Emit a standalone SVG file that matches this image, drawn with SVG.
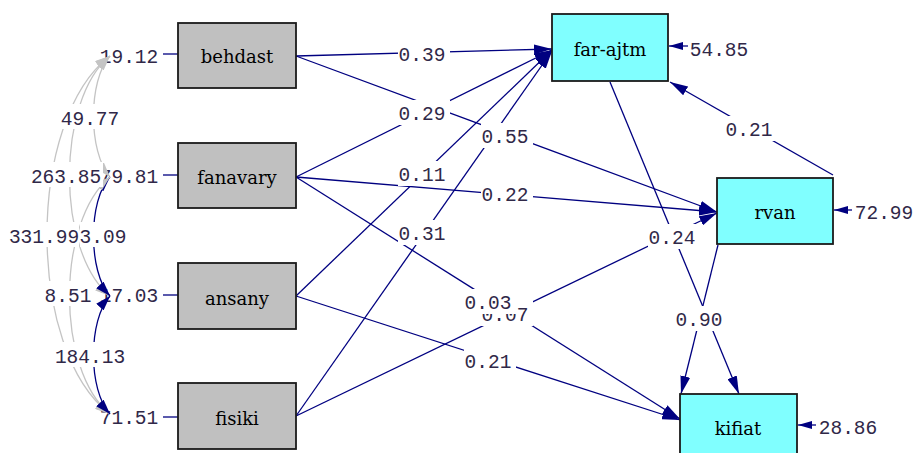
<svg xmlns="http://www.w3.org/2000/svg" width="914" height="453" viewBox="0 0 914 453">
<defs>
<style>
.bg{fill:#ffffff}
.obs{fill:#c0c0c0;stroke:#1a1a1a;stroke-width:1.8}
.lat{fill:#80ffff;stroke:#1a1a1a;stroke-width:1.8}
.nm{font-family:"DejaVu Serif","Liberation Serif",serif;font-size:18px;fill:#000;text-anchor:middle}
.num{font-family:"Liberation Mono","DejaVu Sans Mono",monospace;font-size:19.5px;fill:#302848;text-anchor:middle}
.lbg{fill:#ffffff}
.ln{fill:none;stroke:#000080;stroke-width:1.3}
.gr{fill:none;stroke:#c4c4c4;stroke-width:1.3}
.nv{fill:none;stroke:#000080;stroke-width:1.3}
</style>
<marker id="ah" markerUnits="userSpaceOnUse" markerWidth="18" markerHeight="10" refX="18" refY="5" orient="auto"><path d="M0,0 L18,5 L0,10 z" fill="#000080"/></marker>
<marker id="ag" markerUnits="userSpaceOnUse" markerWidth="15" markerHeight="10" refX="15" refY="5" orient="auto-start-reverse"><path d="M0,0 L15,5 L0,10 z" fill="#c4c4c4"/></marker>
<marker id="an" markerUnits="userSpaceOnUse" markerWidth="15" markerHeight="10" refX="15" refY="5" orient="auto-start-reverse"><path d="M0,0 L15,5 L0,10 z" fill="#000080"/></marker>
<marker id="ae" markerUnits="userSpaceOnUse" markerWidth="14" markerHeight="8" refX="14" refY="4" orient="auto"><path d="M0,0 L14,4 L0,8 z" fill="#000080"/></marker>
</defs>
<rect class="bg" x="0" y="0" width="914" height="453"/>

<g id="connectors">
<path class="ln" d="M296,56 L552,49" marker-end="url(#ah)"/>
<path class="ln" d="M296,56 L717,212" marker-end="url(#ah)"/>
<path class="ln" d="M296,177 L552,50" marker-end="url(#ah)"/>
<path class="ln" d="M296,177 L717,212" marker-end="url(#ah)"/>
<path class="ln" d="M296,177 L680,419" marker-end="url(#ah)"/>
<path class="ln" d="M296,296 L552,50" marker-end="url(#ah)"/>
<path class="ln" d="M296,296 L680,420" marker-end="url(#ah)"/>
<path class="ln" d="M296,416 L552,51" marker-end="url(#ah)"/>
<path class="ln" d="M296,416 L717,213" marker-end="url(#ah)"/>
<path class="ln" d="M610,82 L739,394" marker-end="url(#ah)"/>
<path class="ln" d="M833,175 L670,82" marker-end="url(#ah)"/>
<path class="ln" d="M718,245 L681,394" marker-end="url(#ah)"/>
<path class="ln" d="M163,54 L178,54"/>
<path class="ln" d="M163,175 L178,175"/>
<path class="ln" d="M163,295 L178,295"/>
<path class="ln" d="M163,417 L178,417"/>
<path class="ln" d="M688,46 L669,46" marker-end="url(#ae)"/>
<path class="ln" d="M852,210 L834,210" marker-end="url(#ae)"/>
<path class="ln" d="M816,425 L798,425" marker-end="url(#ae)"/>
</g>

<g id="path-labels">
<rect class="lbg" x="398" y="41" width="52" height="25"/><text class="num" x="422" y="61">0.39</text>
<rect class="lbg" x="398" y="100" width="52" height="25"/><text class="num" x="422" y="120">0.29</text>
<rect class="lbg" x="481" y="123" width="52" height="25"/><text class="num" x="505" y="143">0.55</text>
<rect class="lbg" x="398" y="161" width="52" height="25"/><text class="num" x="422" y="181">0.11</text>
<rect class="lbg" x="481" y="181" width="52" height="25"/><text class="num" x="505" y="201">0.22</text>
<rect class="lbg" x="398" y="220" width="52" height="25"/><text class="num" x="422" y="240">0.31</text>
<rect class="lbg" x="481" y="301" width="52" height="25"/><text class="num" x="505" y="321">0.07</text>
<rect class="lbg" x="464" y="289" width="52" height="25"/><text class="num" x="488" y="309">0.03</text>
<rect class="lbg" x="464" y="348" width="52" height="25"/><text class="num" x="488" y="368">0.21</text>
<rect class="lbg" x="648" y="224" width="52" height="25"/><text class="num" x="672" y="244">0.24</text>
<rect class="lbg" x="675" y="306" width="52" height="25"/><text class="num" x="699" y="326">0.90</text>
<rect class="lbg" x="725" y="116" width="52" height="25"/><text class="num" x="749" y="136">0.21</text>
</g>

<g id="variances">
<text class="num" x="129" y="63">19.12</text>
<text class="num" x="129" y="183">79.81</text>
<text class="num" x="129" y="302">17.03</text>
<text class="num" x="129" y="424">71.51</text>
<text class="num" x="719" y="56">54.85</text>
<text class="num" x="884" y="219">72.99</text>
<text class="num" x="848" y="434">28.86</text>
</g>

<g id="covariances">
<path class="gr" d="M110,56 C88,80 88,152 110,177" marker-start="url(#ag)" marker-end="url(#ag)"/>
<path class="gr" d="M110,56 C56,100 56,252 110,296" marker-start="url(#ag)" marker-end="url(#ag)"/>
<path class="gr" d="M110,56 C26,120 26,350 110,414" marker-start="url(#ag)" marker-end="url(#ag)"/>
<path class="nv" d="M110,177 C88,200 88,272 110,296" marker-start="url(#an)" marker-end="url(#an)"/>
<path class="gr" d="M110,177 C56,222 56,370 110,414" marker-start="url(#ag)" marker-end="url(#ag)"/>
<path class="nv" d="M110,296 C88,320 88,390 110,414" marker-start="url(#an)" marker-end="url(#an)"/>
<rect class="lbg" x="62" y="104" width="58" height="25"/><text class="num" x="90" y="125">49.77</text>
<rect class="lbg" x="31" y="162" width="72" height="25"/><text class="num" x="66" y="183">263.85</text>
<rect class="lbg" x="80" y="222" width="46" height="25"/><text class="num" x="103" y="243">3.09</text>
<rect class="lbg" x="9" y="222" width="70" height="25"/><text class="num" x="44" y="243">331.99</text>
<rect class="lbg" x="45" y="281" width="46" height="25"/><text class="num" x="68" y="302">8.51</text>
<rect class="lbg" x="55" y="342" width="70" height="25"/><text class="num" x="90" y="363">184.13</text>
</g>

<g id="behdast"><rect class="obs" x="178" y="23" width="118" height="65"/><text class="nm" x="237" y="63">behdast</text></g>
<g id="fanavary"><rect class="obs" x="178" y="143" width="118" height="65"/><text class="nm" x="237" y="184">fanavary</text></g>
<g id="ansany"><rect class="obs" x="178" y="263" width="118" height="66"/><text class="nm" x="237" y="305">ansany</text></g>
<g id="fisiki"><rect class="obs" x="178" y="383" width="118" height="66"/><text class="nm" x="237" y="425">fisiki</text></g>
<g id="far-ajtm"><rect class="lat" x="552" y="14" width="116" height="67"/><text class="nm" x="610" y="56">far-ajtm</text></g>
<g id="rvan"><rect class="lat" x="717" y="178" width="116" height="66"/><text class="nm" x="775" y="219">rvan</text></g>
<g id="kifiat"><rect class="lat" x="680" y="394" width="117" height="68"/><text class="nm" x="738" y="435">kifiat</text></g>
</svg>
